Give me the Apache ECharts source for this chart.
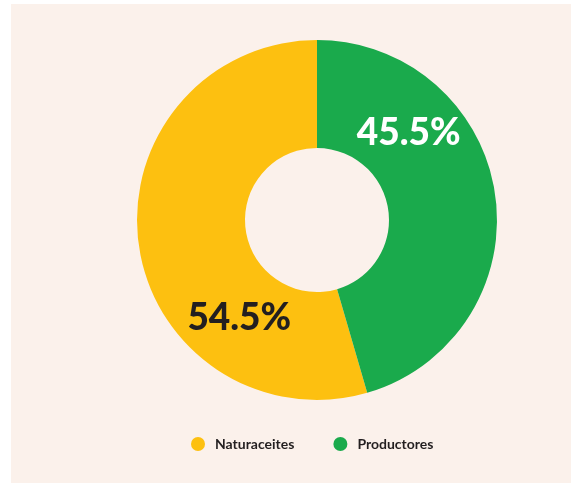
<!DOCTYPE html>
<html>
<head>
<meta charset="utf-8">
<script src="https://cdn.jsdelivr.net/npm/echarts@6/dist/echarts.min.js"></script>
<style>
  html, body { margin: 0; padding: 0; background: #ffffff; }
  #chart { position: absolute; left: 11px; top: 4px; width: 560px; height: 479px; background: #fbf1eb; }
</style>
</head>
<body>
<div id="chart"></div>
<script>
const names = ['Naturaceites', 'Productores']
const values = [54.5, 45.5]
const colors = ['#fdc010', '#1aaa4c']
const labelColors = ['#231f20', '#ffffff']
const labelOffsets = [[50, 80], [-36, -69]]

const dom = document.querySelector('#chart')
let myChart = echarts.init(dom)
let option
option = {
    color: colors,
    legend: {
        data: names,
        left: 175,
        bottom: 27,
        icon: 'circle',
        itemWidth: 14,
        itemHeight: 14,
        itemGap: 39,
        textStyle: {
            fontFamily: 'Lato',
            fontSize: 14,
            fontWeight: 'bold',
            color: '#231f20',
            padding: [0, 0, 0, 5],
        },
    },
    series: [
        {
            type: 'pie',
            center: [306, 216],
            radius: [72, 180],
            startAngle: 90,
            clockwise: false,
            silent: true,
            label: {
                show: true,
                position: 'inside',
                formatter: '{c}%',
                fontFamily: 'Lato',
                fontSize: 37,
                fontWeight: 900,
            },
            labelLine: { show: false },
            data: names.map((n, i) => ({
                name: n,
                value: values[i],
                label: { color: labelColors[i], offset: labelOffsets[i] },
            })),
        },
    ],
}
myChart.setOption(option)
</script>
</body>
</html>
